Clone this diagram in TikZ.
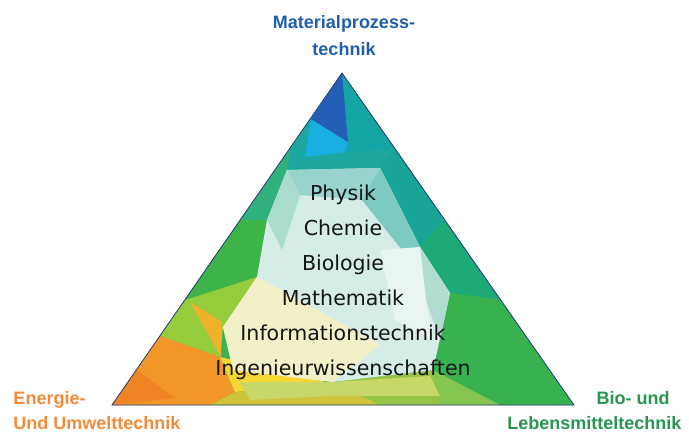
\documentclass[tikz,border=0pt]{standalone}
\usepackage{fontspec}
\setmainfont{Liberation Sans}
\newfontfamily\listfont{DejaVu Sans}
\usetikzlibrary{positioning}

\tikzset{every picture/.style={line width=0.75pt}}
\tikzset{
	facet/.style={draw opacity=0, fill opacity=1},
	corner/.style={font=\fontsize{13.5}{16}\selectfont\bfseries, inner sep=0pt},
	subject/.style={font=\listfont\fontsize{15.4}{18}\selectfont, text={rgb,255:red,22; green,22; blue,22}, anchor=base, inner sep=0pt}}

\begin{document}
\begin{tikzpicture}[x=0.75pt,y=0.75pt,yscale=-1,xscale=1]
	\useasboundingbox (0,0) rectangle (689,432);

	%Shape: Triangle (base)
	\draw  [facet][fill={rgb, 255:red, 60; green, 178; blue, 78 }] (342,73) -- (112,405) -- (574,405) -- cycle ;
	%Shape: Polygon (top teal)
	\draw  [facet][fill={rgb, 255:red, 28; green, 168; blue, 158 }] (342,73) -- (395,148) -- (380,168) -- (287,170) -- (290,148) -- cycle ;
	%Shape: Polygon (upper left)
	\draw  [facet][fill={rgb, 255:red, 48; green, 176; blue, 125 }] (290,148) -- (287,170) -- (267,220) -- (240,220) -- (268,180) -- cycle ;
	%Shape: Polygon (left band)
	\draw  [facet][fill={rgb, 255:red, 62; green, 180; blue, 72 }] (240,220) -- (267,220) -- (257,277) -- (185,300) -- (212,260) -- cycle ;
	%Shape: Polygon (yellow green)
	\draw  [facet][fill={rgb, 255:red, 150; green, 203; blue, 60 }] (185,300) -- (257,277) -- (223,327) -- (220,357) -- (160,336) -- cycle ;
	%Shape: Polygon (orange)
	\draw  [facet][fill={rgb, 255:red, 242; green, 150; blue, 40 }] (160,336) -- (220,357) -- (235,392) -- (210,405) -- (112,405) -- cycle ;
	%Shape: Triangle (dark orange)
	\draw  [facet][fill={rgb, 255:red, 238; green, 132; blue, 35 }] (112,405) -- (175,398) -- (136,370) -- cycle ;
	%Shape: Triangle (yellow orange wedge)
	\draw  [facet][fill={rgb, 255:red, 240; green, 178; blue, 42 }] (190,302) -- (222,322) -- (221,357) -- cycle ;
	%Shape: Triangle (yellow strip)
	\draw  [facet][fill={rgb, 255:red, 245; green, 215; blue, 50 }] (220,357) -- (330,383) -- (235,392) -- cycle ;
	%Shape: Polygon (bottom olive)
	\draw  [facet][fill={rgb, 255:red, 205; green, 196; blue, 60 }] (210,405) -- (235,392) -- (333,382) -- (380,405) -- cycle ;
	%Shape: Polygon (bottom middle)
	\draw  [facet][fill={rgb, 255:red, 150; green, 196; blue, 70 }] (380,405) -- (333,382) -- (433,370) -- (440,405) -- cycle ;
	%Shape: Polygon (right teal)
	\draw  [facet][fill={rgb, 255:red, 25; green, 165; blue, 150 }] (380,168) -- (395,148) -- (445,220) -- (420,247) -- cycle ;
	%Shape: Polygon (right green teal)
	\draw  [facet][fill={rgb, 255:red, 30; green, 170; blue, 118 }] (420,247) -- (445,220) -- (501,300) -- (450,293) -- cycle ;
	%Shape: Polygon (right lower)
	\draw  [facet][fill={rgb, 255:red, 55; green, 178; blue, 78 }] (450,293) -- (501,300) -- (574,405) -- (500,405) -- (433,370) -- cycle ;
	%Shape: Triangle (lime)
	\draw  [facet][fill={rgb, 255:red, 132; green, 198; blue, 80 }] (433,370) -- (500,405) -- (440,405) -- cycle ;
	%Shape: Polygon (centre pale)
	\draw  [facet][fill={rgb, 255:red, 214; green, 236; blue, 230 }] (287,170) -- (380,168) -- (420,247) -- (450,293) -- (433,370) -- (333,382) -- (233,370) -- (223,327) -- (257,277) -- (267,220) -- cycle ;
	%Shape: Polygon (inner teal)
	\draw  [facet][fill={rgb, 255:red, 150; green, 212; blue, 205 }] (287,170) -- (380,168) -- (362,200) -- (300,195) -- cycle ;
	%Shape: Polygon (inner left teal)
	\draw  [facet][fill={rgb, 255:red, 170; green, 220; blue, 205 }] (287,170) -- (300,195) -- (282,250) -- (267,220) -- cycle ;
	%Shape: Polygon (inner right teal)
	\draw  [facet][fill={rgb, 255:red, 125; green, 202; blue, 192 }] (380,168) -- (420,247) -- (402,250) -- (362,200) -- cycle ;
	%Shape: Polygon (inner right light)
	\draw  [facet][fill={rgb, 255:red, 175; green, 222; blue, 208 }] (420,247) -- (450,293) -- (440,340) -- (426,300) -- cycle ;
	%Shape: Polygon (pale yellow)
	\draw  [facet][fill={rgb, 255:red, 242; green, 240; blue, 198 }] (223,327) -- (257,277) -- (300,300) -- (380,345) -- (333,382) -- (233,370) -- cycle ;
	%Shape: Polygon (bright patch)
	\draw  [facet][fill={rgb, 255:red, 232; green, 245; blue, 242 }] (380,250) -- (420,247) -- (426,300) -- (433,340) -- (395,320) -- cycle ;
	%Shape: Polygon (yellow green strip below the list)
	\draw  [facet][fill={rgb, 255:red, 200; green, 215; blue, 105 }] (240,382) -- (333,382) -- (430,376) -- (440,396) -- (330,396) -- (250,400) -- cycle ;
	%Shape: Polygon (teal beside tip)
	\draw  [facet][fill={rgb, 255:red, 20; green, 165; blue, 165 }] (342,73) -- (368,110) -- (392,148) -- (345,152) -- (348,142) -- cycle ;
	%Shape: Polygon (cyan)
	\draw  [facet][fill={rgb, 255:red, 25; green, 175; blue, 225 }] (311,119) -- (348,142) -- (345,152) -- (305,157) -- cycle ;
	%Shape: Triangle (dark blue tip)
	\draw  [facet][fill={rgb, 255:red, 35; green, 95; blue, 185 }] (342,73) -- (311,119) -- (348,142) -- cycle ;
	%Shape: Triangle (outline)
	\draw  [color={rgb, 255:red, 40; green, 60; blue, 120 }, line width=0.6pt] (342,73) -- (112,405) -- (574,405) -- cycle ;

	% Text Node
	\node [subject] (physik) at (343,200) {Physik};
	% Text Node
	\node [subject] (chemie) at (343,235) {Chemie};
	% Text Node
	\node [subject] (biologie) at (343,270) {Biologie};
	% Text Node
	\node [subject] (mathe) at (343,305) {Mathematik};
	% Text Node
	\node [subject] (info) at (343,340) {Informationstechnik};
	% Text Node
	\node [subject] (ingenieur) at (343,375) {Ingenieurwissenschaften};

	% Text Node
	\node [corner, anchor=base, text={rgb,255:red,30; green,95; blue,170}] (matprozess) at (344,28) {Materialprozess-};
	\node [corner, anchor=base, text={rgb,255:red,30; green,95; blue,170}] (matprozessb) at (344,55) {technik};
	% Text Node
	\node [corner, anchor=base west, text={rgb,255:red,240; green,140; blue,60}] (energie) at (13,404) {Energie-};
	\node [corner, anchor=base west, text={rgb,255:red,240; green,140; blue,60}] (energieb) at (13,429) {Und Umwelttechnik};
	% Text Node
	\node [corner, anchor=base east, text={rgb,255:red,40; green,150; blue,80}] (bio) at (670,404) {Bio- und};
	\node [corner, anchor=base east, text={rgb,255:red,40; green,150; blue,80}] (biob) at (682,429) {Lebensmitteltechnik};

\end{tikzpicture}
\end{document}
